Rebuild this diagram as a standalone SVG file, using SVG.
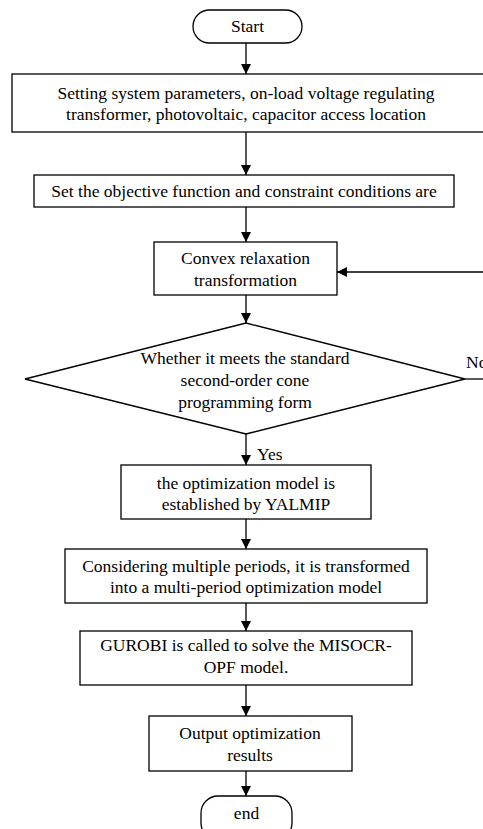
<svg xmlns="http://www.w3.org/2000/svg" width="483" height="829" viewBox="0 0 483 829">
<defs>
<marker id="ah" viewBox="0 0 10 10" refX="10" refY="5" markerWidth="10" markerHeight="10" markerUnits="userSpaceOnUse" orient="auto">
<path d="M0,0 L10,5 L0,10 z" fill="#000"/>
</marker>
<style>
.s{fill:#fff;stroke:#000;stroke-width:1.3}
text{font-family:'Liberation Serif','Times New Roman',serif;font-size:17.5px;fill:#000;text-anchor:middle}
.l{text-anchor:start}
.c{fill:none;stroke:#000;stroke-width:1.3}
</style>
</defs>
<rect width="483" height="829" fill="#fff"/>
<g id="connectors">
<line class="c" x1="246" y1="43" x2="246" y2="74" marker-end="url(#ah)"/>
<line class="c" x1="246" y1="132" x2="246" y2="175" marker-end="url(#ah)"/>
<line class="c" x1="246" y1="207" x2="246" y2="242" marker-end="url(#ah)"/>
<line class="c" x1="246" y1="295" x2="246" y2="323" marker-end="url(#ah)"/>
<line class="c" x1="246" y1="434" x2="246" y2="465" marker-end="url(#ah)"/>
<line class="c" x1="246" y1="519" x2="246" y2="549" marker-end="url(#ah)"/>
<line class="c" x1="246" y1="603" x2="246" y2="631" marker-end="url(#ah)"/>
<line class="c" x1="246" y1="685" x2="246" y2="716" marker-end="url(#ah)"/>
<line class="c" x1="246" y1="771" x2="246" y2="796" marker-end="url(#ah)"/>
<line class="c" x1="490" y1="272" x2="337" y2="272" marker-end="url(#ah)"/>
<line class="c" x1="465" y1="379" x2="490" y2="379"/>
<text class="l" x="257" y="460" font-family="Liberation Serif, serif">Yes</text>
<text class="l" x="466" y="368" font-family="Liberation Serif, serif">No</text>
</g>
<g id="start">
<rect class="s" x="193" y="10" width="109" height="33" rx="16.5"/>
<text x="247.5" y="32" font-family="Liberation Serif, serif">Start</text>
</g>
<g id="setting">
<rect class="s" x="12" y="74" width="480" height="58"/>
<text x="246" y="99" font-family="Liberation Serif, serif">Setting system parameters, on-load voltage regulating</text>
<text x="246" y="120" font-family="Liberation Serif, serif">transformer, photovoltaic, capacitor access location</text>
</g>
<g id="objective">
<rect class="s" x="34" y="175" width="420" height="32"/>
<text x="244" y="197" font-family="Liberation Serif, serif">Set the objective function and constraint conditions are</text>
</g>
<g id="convex">
<rect class="s" x="154" y="242" width="183" height="53"/>
<text x="245.5" y="264" font-family="Liberation Serif, serif">Convex relaxation</text>
<text x="245.5" y="286" font-family="Liberation Serif, serif">transformation</text>
</g>
<g id="decision">
<polygon class="s" points="246,323 465,379 246,434 25,379"/>
<text x="245" y="364" font-family="Liberation Serif, serif">Whether it meets the standard</text>
<text x="245" y="386" font-family="Liberation Serif, serif">second-order cone</text>
<text x="245" y="408" font-family="Liberation Serif, serif">programming form</text>
</g>
<g id="yalmip">
<rect class="s" x="121" y="465" width="250" height="54"/>
<text x="246" y="489" font-family="Liberation Serif, serif">the optimization model is</text>
<text x="246" y="510" font-family="Liberation Serif, serif">established by YALMIP</text>
</g>
<g id="multiperiod">
<rect class="s" x="65" y="549" width="362" height="54"/>
<text x="246" y="572" font-family="Liberation Serif, serif">Considering multiple periods, it is transformed</text>
<text x="246" y="593" font-family="Liberation Serif, serif">into a multi-period optimization model</text>
</g>
<g id="gurobi">
<rect class="s" x="80" y="631" width="332" height="54"/>
<text x="246" y="651" font-family="Liberation Serif, serif">GUROBI is called to solve the MISOCR-</text>
<text x="246" y="673" font-family="Liberation Serif, serif">OPF model.</text>
</g>
<g id="output">
<rect class="s" x="149" y="716" width="203" height="55"/>
<text x="250" y="739" font-family="Liberation Serif, serif">Output optimization</text>
<text x="250" y="761" font-family="Liberation Serif, serif">results</text>
</g>
<g id="end">
<rect class="s" x="201" y="796" width="91" height="44" rx="17"/>
<text x="246.5" y="819" font-family="Liberation Serif, serif">end</text>
</g>
</svg>
